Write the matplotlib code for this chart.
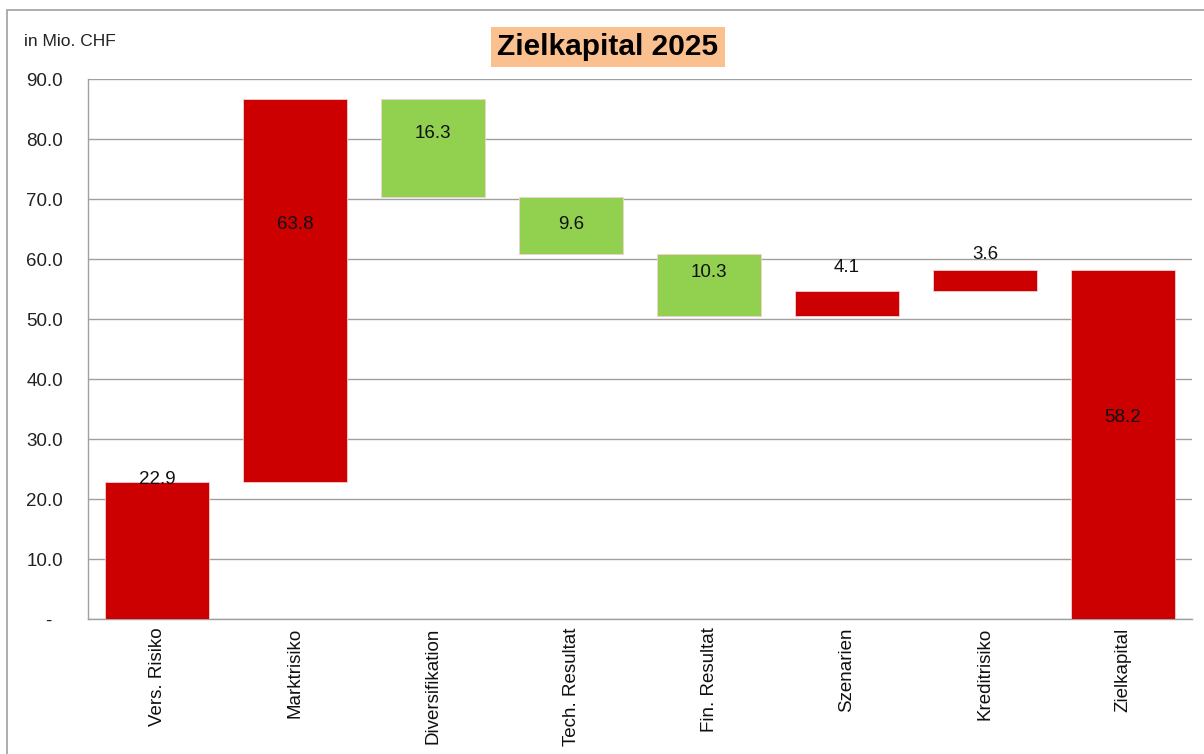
import matplotlib
matplotlib.use("Agg")
import matplotlib.pyplot as plt
from matplotlib.patches import Rectangle

categories = ["Vers. Risiko", "Marktrisiko", "Diversifikation", "Tech. Resultat",
              "Fin. Resultat", "Szenarien", "Kreditrisiko", "Zielkapital"]
values = [22.9, 63.8, -16.3, -9.6, -10.3, 4.1, 3.6, 58.2]
is_total = [False, False, False, False, False, False, False, True]
labels = ["22.9", "63.8", "16.3", "9.6", "10.3", "4.1", "3.6", "58.2"]
label_y = [23.2, 65.7, 81.0, 65.7, 57.8, 58.5, 60.7, 33.5]
yticks = [0, 10, 20, 30, 40, 50, 60, 70, 80, 90]
yticklabels = ["-  ", "10.0", "20.0", "30.0", "40.0", "50.0", "60.0", "70.0", "80.0", "90.0"]

RED = "#CC0000"
GREEN = "#92D050"

plt.rcParams['font.family'] = ['Liberation Sans', 'DejaVu Sans']

fig = plt.figure(figsize=(12.04, 7.54), dpi=100)
# outer chart frame
fig.patches.append(Rectangle((7/1204, -0.1), 1.2, (754-10)/754 + 0.1, transform=fig.transFigure,
                             fill=False, edgecolor="#A0A0A0", linewidth=1.2))
ax = fig.add_axes([88/1204, (754-619)/754, (1192-88)/1204, (619-79)/754])

bottoms, heights, colors = [], [], []
running = 0.0
for v, tot in zip(values, is_total):
    if tot:
        bottoms.append(0.0)
        heights.append(v)
        colors.append(RED)
        running = v
    else:
        if v >= 0:
            bottoms.append(running)
            heights.append(v)
            colors.append(RED)
        else:
            bottoms.append(running + v)
            heights.append(-v)
            colors.append(GREEN)
        running += v

x = list(range(len(categories)))
ax.bar(x, heights, bottom=bottoms, width=0.76, color=colors, edgecolor="#F4D0D0",
       linewidth=0.6, zorder=3)

for xi, lab, ly in zip(x, labels, label_y):
    ax.text(xi, ly, lab, ha="center", va="center", fontsize=13.5, color="#111111", zorder=4)

ax.set_xlim(-0.5, len(categories) - 0.5)
ax.set_ylim(0, 90)
ax.set_yticks(yticks)
ax.set_yticklabels(yticklabels, fontsize=13.5, color="#222222")
ax.set_xticks(x)
ax.set_xticklabels(categories, rotation=90, fontsize=13.5, color="#111111")
ax.tick_params(axis="y", length=0, pad=18)
ax.tick_params(axis="x", length=0, pad=6)
ax.yaxis.grid(True, color="#A0A0A0", linewidth=1.0, zorder=0)
ax.set_axisbelow(True)
for s in ["top", "right"]:
    ax.spines[s].set_visible(False)
ax.spines["left"].set_color("#A0A0A0")
ax.spines["bottom"].set_color("#A0A0A0")
ax.spines["left"].set_linewidth(1.0)
ax.spines["bottom"].set_linewidth(1.0)

fig.text(24/1204, 1 - 41/754, "in Mio. CHF", fontsize=12.5, color="#222222", ha="left", va="center")
fig.text(608/1204, 1 - 47/754, "Zielkapital 2025", fontsize=21.5, fontweight="bold", color="black",
         ha="center", va="center",
         bbox=dict(boxstyle="square,pad=0.2", facecolor="#FAC090", edgecolor="none"))

fig.savefig("out.png", dpi=100)
